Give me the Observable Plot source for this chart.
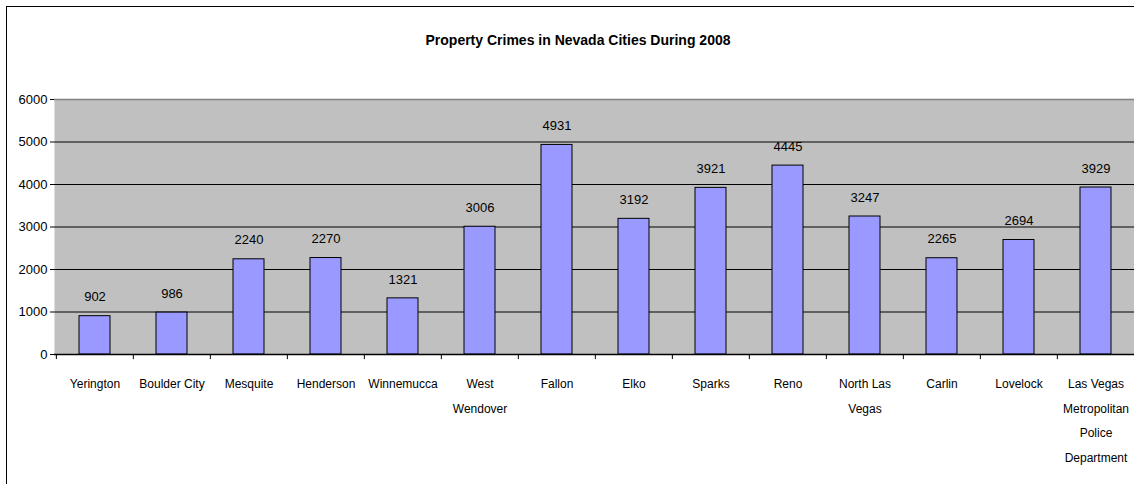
<!DOCTYPE html>
<html>
<head>
<meta charset="utf-8">
<script src="https://cdn.jsdelivr.net/npm/d3@7"></script>
<script src="https://cdn.jsdelivr.net/npm/@observablehq/plot@0.6"></script>
<style>
  html, body { margin: 0; padding: 0; background: #fff; overflow: hidden; }
  #wrap { position: relative; width: 1134px; height: 484px; overflow: hidden; background: #fff;
          font-family: "Liberation Sans Narrow", "Arial Narrow", "Liberation Sans", Arial, sans-serif; }
  #frame { position: absolute; left: 6px; top: 6px; width: 1200px; height: 600px; border: 1.5px solid #000; box-sizing: border-box; }
  #title { position: absolute; left: 0; top: 31px; width: 1156px; text-align: center; font-weight: bold; font-size: 14px; line-height: 18px; color: #000; }
  #chart { position: absolute; left: 0; top: 0; }
</style>
</head>
<body>
<div id="wrap">
  <div id="frame"></div>
  <div id="title">Property Crimes in Nevada Cities During 2008</div>
  <div id="chart"></div>
</div>
<script>
const cities = ["Yerington", "Boulder City", "Mesquite", "Henderson", "Winnemucca", "West Wendover", "Fallon", "Elko", "Sparks", "Reno", "North Las Vegas", "Carlin", "Lovelock", "Las Vegas Metropolitan Police Department"];
const cityLabels = ["Yerington", "Boulder City", "Mesquite", "Henderson", "Winnemucca", "West\nWendover", "Fallon", "Elko", "Sparks", "Reno", "North Las\nVegas", "Carlin", "Lovelock", "Las Vegas\nMetropolitan\nPolice\nDepartment"];
const crimes = [902, 986, 2240, 2270, 1321, 3006, 4931, 3192, 3921, 4445, 3247, 2265, 2694, 3929];
const yTicks = [0, 1000, 2000, 3000, 4000, 5000, 6000];
const gridValues = [1000, 2000, 3000, 4000, 5000];

const data = cities.map((c, i) => ({city: c, label: cityLabels[i], value: crimes[i]}));
const labelOf = new Map(data.map(d => [d.city, d.label]));

const W = 1134, H = 484;
const mL = 54, mR = -2, mT = 99, mB = 130;
const step = (W - mL - mR) / cities.length;

const fontFam = '"Liberation Sans Narrow", "Arial Narrow", "Liberation Sans", Arial, sans-serif';

const chart = Plot.plot({
  width: W,
  height: H,
  marginLeft: mL,
  marginRight: mR,
  marginTop: mT,
  marginBottom: mB,
  style: {fontFamily: fontFam, fontSize: "13px", color: "#000", background: "transparent", overflow: "hidden"},
  x: {domain: cities, paddingInner: 0.6, paddingOuter: 0.3, label: null},
  y: {domain: [0, 6000], ticks: yTicks, label: null},
  marks: [
    Plot.frame({fill: "#C0C0C0", stroke: null}),
    Plot.ruleY(gridValues, {stroke: "#000", strokeWidth: 1}),
    Plot.ruleY([6000], {stroke: "#808080", strokeWidth: 1.5}),
    Plot.barY(data, {x: "city", y: "value", fill: "#9999FF", stroke: "#000", strokeWidth: 1}),
    Plot.ruleY([0], {stroke: "#000", strokeWidth: 1.5}),
    Plot.ruleX([0], {x: () => 0, frameAnchor: "left", stroke: "#000"}),
    Plot.ruleX(cities, {x: d => d, dx: -step / 2, y1: 0, y2: -120, stroke: "#000"}),
    Plot.text(data, {x: "city", y: "value", text: d => String(d.value), dy: -19, fontSize: 13, fill: "#000"}),
    Plot.axisY({ticks: yTicks, tickSize: 4, tickPadding: 3, tickFormat: d => String(d), fontSize: 13, label: null}),
    Plot.axisX({tickSize: 0, tickPadding: 16, lineHeight: 2.05, lineAnchor: "top", tickFormat: d => labelOf.get(d), fontSize: 12, label: null})
  ]
});
document.getElementById("chart").appendChild(chart);
</script>
</body>
</html>
